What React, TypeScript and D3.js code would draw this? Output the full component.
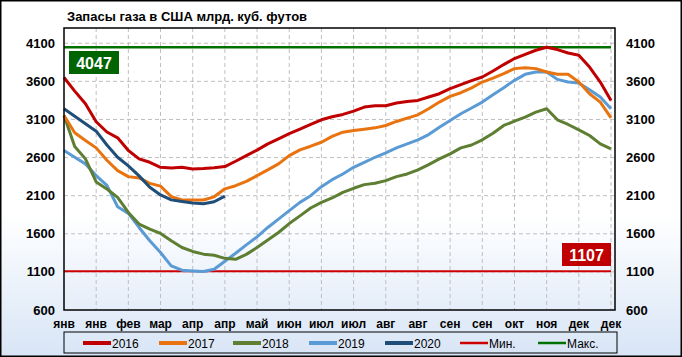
import React from "react";
import * as d3 from "d3";

const title = "Запасы газа в США млрд. куб. футов";
const monthLabels = ["янв","янв","фев","мар","апр","апр","май","июн","июл","июл","авг","авг","сен","сен","окт","ноя","дек","дек"];
const yTicks = [600, 1100, 1600, 2100, 2600, 3100, 3600, 4100];

const s2016 = [3650,3472,3306,3070,2935,2859,2692,2583,2538,2472,2464,2472,2451,2455,2466,2482,2552,2626,2698,2780,2846,2915,2972,3034,3096,3135,3166,3209,3262,3280,3280,3315,3337,3350,3394,3438,3504,3557,3610,3657,3736,3820,3899,3955,4008,4047,4017,3972,3942,3788,3591,3350];
const s2017 = [3153,2925,2824,2727,2565,2429,2350,2333,2262,2225,2087,2043,2043,2043,2085,2190,2231,2288,2363,2438,2517,2626,2701,2749,2801,2878,2933,2955,2972,2990,3021,3074,3117,3161,3241,3328,3403,3451,3515,3591,3643,3701,3767,3780,3767,3723,3692,3692,3591,3438,3328,3122];
const s2018 = [3153,2745,2583,2280,2188,2078,1880,1727,1661,1605,1508,1420,1368,1333,1318,1278,1265,1330,1420,1517,1617,1734,1835,1938,2012,2070,2144,2197,2245,2262,2297,2350,2385,2438,2508,2583,2649,2727,2765,2833,2920,3021,3077,3130,3196,3241,3096,3034,2964,2889,2780,2714];
const s2019 = [2692,2604,2517,2363,2235,1955,1867,1683,1508,1354,1179,1122,1113,1104,1135,1240,1344,1455,1560,1683,1793,1903,2012,2100,2218,2310,2385,2472,2538,2604,2662,2727,2780,2833,2902,2999,3087,3175,3250,3328,3425,3517,3613,3692,3723,3723,3626,3591,3578,3491,3394,3241];
const s2020 = [3241,3143,3043,2946,2765,2604,2490,2360,2210,2110,2045,2025,2005,1995,2020,2095];
const minValue = 1107;
const maxValue = 4047;

const seriesNames = ["2016", "2017", "2018", "2019", "2020"];
const seriesData = [s2016, s2017, s2018, s2019, s2020];
const seriesColors = ["#C00000", "#E8730F", "#5E7E32", "#5B9BD5", "#1F4E79"];

const W = 682, H = 357;
const L = 64, R = 611, T = 28, B = 310;
const FONT = "'Liberation Sans', Arial, sans-serif";

export default function App() {
  const weeks = d3.range(52);
  const x = d3.scalePoint<number>().domain(weeks).range([L, R]);
  const y = d3.scaleLinear().domain([600, 4300]).range([B, T]);
  const line = d3.line<number>().x((_, i) => x(i)!).y((d) => y(d));

  const labelWeeks = monthLabels.map((_, j) => j * 3);

  const legendItems = [
    ...seriesNames.map((n, i) => ({ name: n, color: seriesColors[i], w: 4 })),
    { name: "Мин.", color: "#CC0000", w: 2.5 },
    { name: "Макс.", color: "#007000", w: 2.5 },
  ];
  const legendX = [83, 159, 233, 309, 385, 460, 538];

  return (
    <svg width={W} height={H} style={{ position: "absolute", left: 0, top: 0 }} fontFamily={FONT}>
      <defs>
        <linearGradient id="bg" x1="0" y1="0" x2="0" y2="1">
          <stop offset="0%" stopColor="#ffffff" />
          <stop offset="60%" stopColor="#ffffff" />
          <stop offset="100%" stopColor="#d8e5f6" />
        </linearGradient>
      </defs>
      <rect x={0.75} y={0.75} width={W - 1.5} height={H - 1.5} fill="url(#bg)" stroke="#000" strokeWidth={1.5} />
      <text x={67} y={21} fontSize={13} fontWeight="bold" fill="#000">{title}</text>

      {/* horizontal gridlines */}
      {yTicks.slice(1).map((t) => (
        <line key={"h" + t} x1={L} x2={615} y1={y(t)} y2={y(t)} stroke="#bfbfbf" strokeWidth={1} strokeDasharray="4,3" />
      ))}
      {/* vertical gridlines */}
      {labelWeeks.slice(1).map((w) => (
        <line key={"v" + w} x1={x(w)} x2={x(w)} y1={T} y2={B} stroke="#bfbfbf" strokeWidth={1} strokeDasharray="4,3" />
      ))}

      {/* min / max lines */}
      <line x1={L} x2={R} y1={y(maxValue)} y2={y(maxValue)} stroke="#007000" strokeWidth={2.5} />
      <line x1={L} x2={R} y1={y(minValue)} y2={y(minValue)} stroke="#CC0000" strokeWidth={2} />

      {/* series (drawn so 2016 on top) */}
      {[3, 2, 1, 4, 0].map((i) => (
        <path key={seriesNames[i]} d={line(seriesData[i]) || ""} fill="none" stroke={seriesColors[i]} strokeWidth={3} strokeLinejoin="round" />
      ))}

      {/* plot frame */}
      <rect x={L} y={T} width={615 - L} height={B - T} fill="none" stroke="#000" strokeWidth={1.5} />

      {/* value boxes */}
      <rect x={69} y={51} width={50} height={23} fill="#006400" />
      <text x={94} y={68.5} fontSize={16} fontWeight="bold" fill="#fff" textAnchor="middle">{maxValue}</text>
      <rect x={562} y={243} width={49} height={23} fill="#C00000" />
      <text x={586.5} y={260.5} fontSize={16} fontWeight="bold" fill="#fff" textAnchor="middle">{minValue}</text>

      {/* y axis labels */}
      {yTicks.map((t) => (
        <g key={"y" + t}>
          <text x={55} y={y(t)} dy="0.35em" fontSize={13} fontWeight="bold" textAnchor="end">{t}</text>
          <text x={626} y={y(t)} dy="0.35em" fontSize={13} fontWeight="bold" textAnchor="start">{t}</text>
        </g>
      ))}

      {/* x labels */}
      {labelWeeks.map((w, j) => (
        <text key={"x" + j} x={x(w)} y={328} fontSize={12} fontWeight="bold" textAnchor="middle">{monthLabels[j]}</text>
      ))}

      {/* legend */}
      <rect x={64} y={332} width={553} height={21} fill="none" stroke="#000" strokeWidth={1} />
      {legendItems.map((it, i) => (
        <g key={"l" + i}>
          <line x1={legendX[i]} x2={legendX[i] + 28} y1={343} y2={343} stroke={it.color} strokeWidth={it.w} />
          <text x={legendX[i] + 29} y={347.5} fontSize={12} fill="#000">{it.name}</text>
        </g>
      ))}
    </svg>
  );
}
